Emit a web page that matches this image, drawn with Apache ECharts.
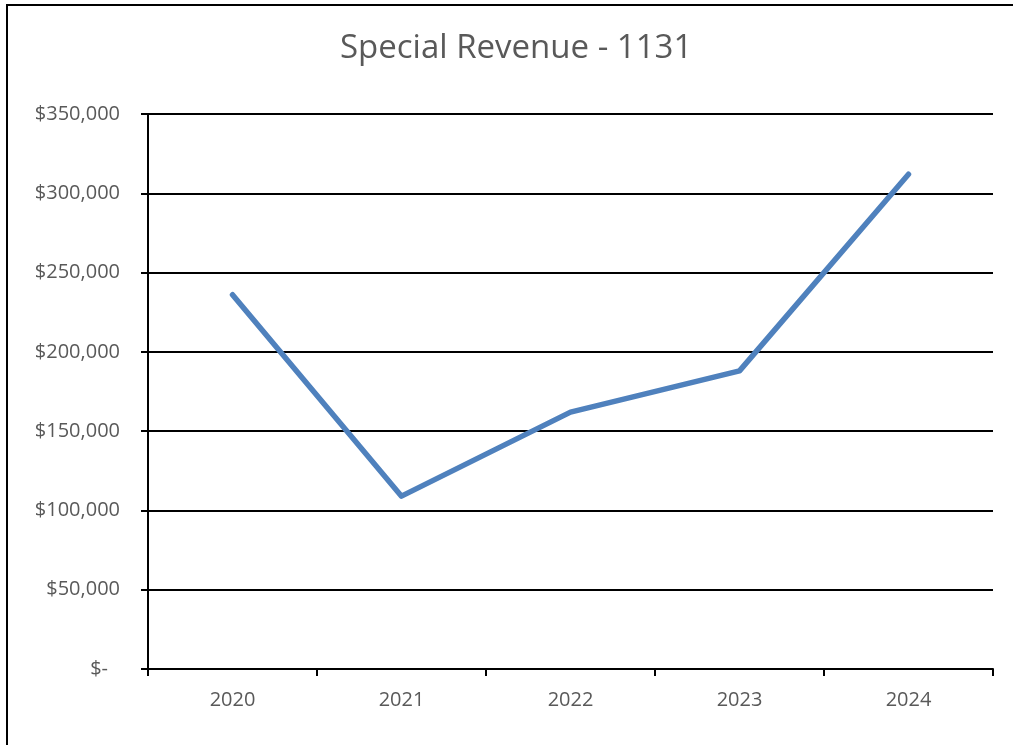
<!DOCTYPE html>
<html>
<head>
<meta charset="utf-8">
<script src="https://cdn.jsdelivr.net/npm/echarts@6/dist/echarts.min.js"></script>
<style>
  html, body { margin: 0; padding: 0; background: #fff; }
  #chart { width: 1013px; height: 745px; }
</style>
</head>
<body>
<div id="chart"></div>
<script>
// Fiscal years on the category axis
const years = ['2020', '2021', '2022', '2023', '2024'];
// Special Revenue fund 1131, dollars per year
const revenue = [236000, 109000, 162000, 188000, 312000];
// Value axis ticks
const yTicks = [0, 50000, 100000, 150000, 200000, 250000, 300000, 350000];

const fontFamily = '"Open Sans", "Noto Sans", sans-serif';

function money(v) {
  if (v === 0) return '{z|$-}';
  return '$' + v.toLocaleString('en-US');
}

const chart = echarts.init(document.getElementById('chart'), null, { renderer: 'canvas' });
chart.setOption({
  animation: false,
  backgroundColor: '#ffffff',
  title: {
    text: 'Special Revenue - 1131',
    left: 335,
    top: 27,
    textStyle: { fontFamily, fontSize: 33, fontWeight: 'normal', color: '#595959' }
  },
  graphic: [{
    type: 'rect',
    shape: { x: 7, y: 5, width: 1100, height: 900 },
    style: { fill: 'none', stroke: '#000', lineWidth: 2 },
    silent: true
  }],
  grid: { left: 148, right: 20, top: 114, bottom: 76 },
  xAxis: {
    type: 'category',
    data: years,
    boundaryGap: true,
    axisLine: { lineStyle: { color: '#000', width: 2 } },
    axisTick: { show: true, length: 7, lineStyle: { color: '#000', width: 2 } },
    axisLabel: { fontFamily, fontSize: 20, color: '#595959', margin: 21 },
    splitLine: { show: false }
  },
  yAxis: {
    type: 'value',
    min: yTicks[0],
    max: yTicks[yTicks.length - 1],
    interval: yTicks[1] - yTicks[0],
    axisLine: { show: true, lineStyle: { color: '#000', width: 2 } },
    axisTick: { show: true, length: 7, lineStyle: { color: '#000', width: 2 } },
    axisLabel: {
      fontFamily, fontSize: 20, color: '#595959', margin: 28,
      formatter: money,
      rich: { z: { fontFamily, fontSize: 20, color: '#595959', padding: [0, 12, 0, 0] } }
    },
    splitLine: { show: true, lineStyle: { color: '#000', width: 2 } }
  },
  series: [{
    type: 'line',
    data: revenue,
    symbol: 'none',
    lineStyle: { color: '#4F81BD', width: 5.5, cap: 'round', join: 'round' },
    itemStyle: { color: '#4F81BD' }
  }]
});
</script>
</body>
</html>
